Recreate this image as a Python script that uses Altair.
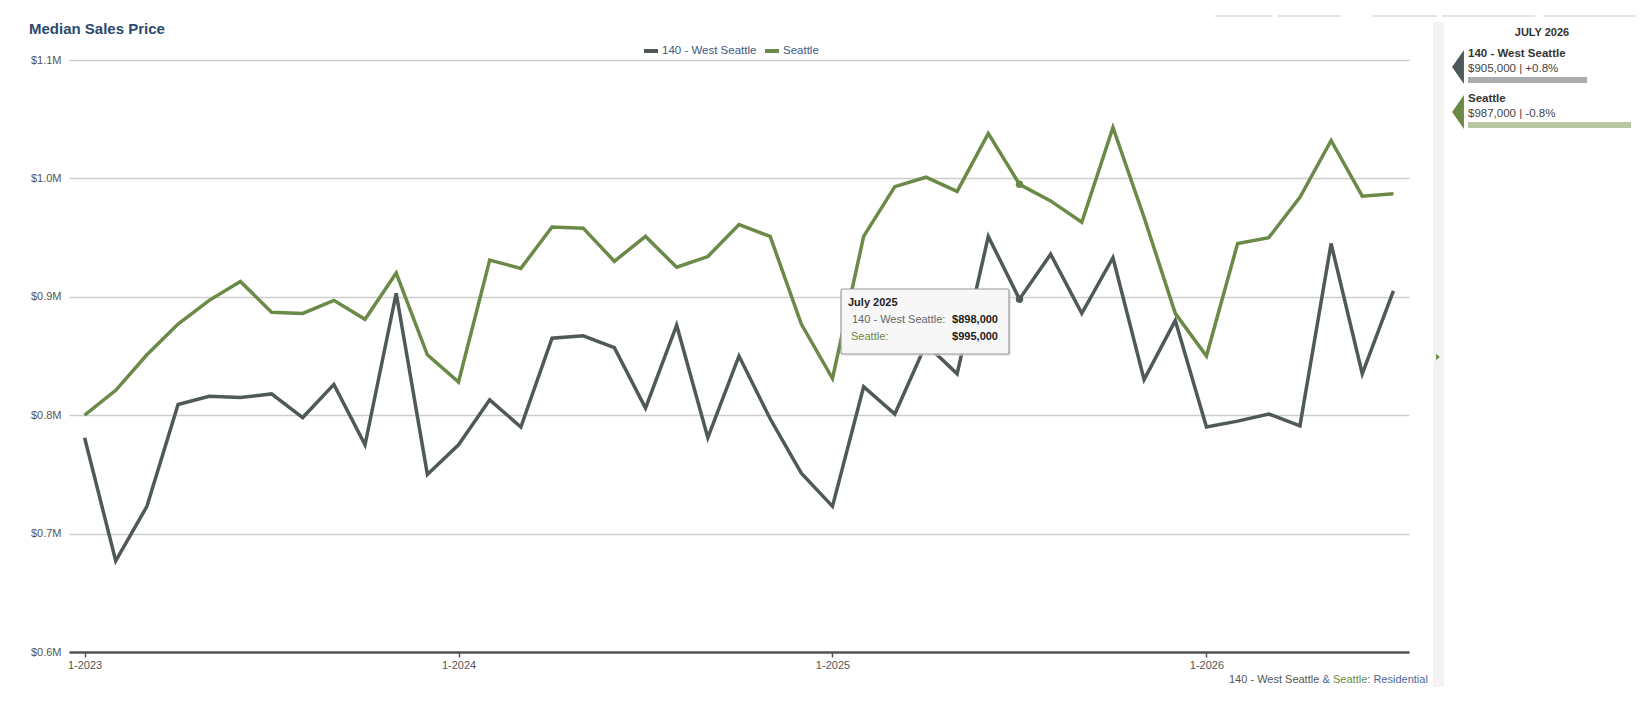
import altair as alt
import pandas as pd

# ---------------- data ----------------
series_names = ["140 - West Seattle", "Seattle"]
series_colors = ["#4f5959", "#6b8a47"]
bar_colors = ["#a9adad", "#b8c7a4"]

first_year = 2023
month_labels = [f"{first_year + i // 12}-{i % 12 + 1:02d}" for i in range(43)]
month_names = ["January", "February", "March", "April", "May", "June", "July",
               "August", "September", "October", "November", "December"]

west_seattle = [
    781000, 677000, 723000, 809000, 816000, 815000, 818000, 798000, 826000, 775000, 903000, 750000,
    775000, 813000, 790000, 865000, 867000, 857000, 806000, 876000, 781000, 850000, 797000, 751000,
    723000, 824000, 801000, 860000, 835000, 951000, 898000, 936000, 886000, 933000, 830000, 880000,
    790000, 795000, 801000, 791000, 945000, 835000, 905000,
]
seattle = [
    800000, 821000, 851000, 877000, 897000, 913000, 887000, 886000, 897000, 881000, 920000, 851000,
    828000, 931000, 924000, 959000, 958000, 930000, 951000, 925000, 934000, 961000, 951000, 877000,
    831000, 951000, 993000, 1001000, 989000, 1038000, 995000, 981000, 963000, 1043000, 967000, 886000,
    850000, 945000, 950000, 984000, 1032000, 985000, 987000,
]

year_ticks = [0, 12, 24, 36]
y_ticks = [600000, 700000, 800000, 900000, 1000000, 1100000]
highlight_month = "2025-07"
chart_title = "Median Sales Price"
property_type = "Residential"

FONT = "Liberation Sans"

rows = []
for name, vals in zip(series_names, [west_seattle, seattle]):
    for i, (m, v) in enumerate(zip(month_labels, vals)):
        rows.append({"idx": i, "month": m, "series": name, "value": v})
df = pd.DataFrame(rows)

hi = month_labels.index(highlight_month)
hi_year, hi_m = map(int, highlight_month.split("-"))
hi_title = f"{month_names[hi_m - 1]} {hi_year}"

last_year, last_m = map(int, month_labels[-1].split("-"))
latest_title = f"{month_names[last_m - 1].upper()} {last_year}"
latest_vals = [west_seattle[-1], seattle[-1]]
prev_vals = [west_seattle[-13], seattle[-13]]
latest_text = [f"${v:,} | {(v / p - 1) * 100:+.1f}%" for v, p in zip(latest_vals, prev_vals)]
BAR_BASE = 683000

one = pd.DataFrame({"a": [0]})
x_scale = alt.Scale(domain=[-0.5, 42.5], nice=False, zero=False)
y_scale = alt.Scale(domain=[600000, 1100000], nice=False, zero=False)
color_scale = alt.Scale(domain=series_names, range=series_colors)

# ---------------- main lines ----------------
lines = alt.Chart(df).mark_line(strokeWidth=3.5).encode(
    x=alt.X("idx:Q", scale=x_scale, axis=alt.Axis(
        values=year_ticks, title=None, grid=False,
        labelExpr=f"'1-' + ({first_year} + datum.value / 12)",
        domain=True, domainColor="#555555", domainWidth=2.5,
        ticks=True, tickColor="#555555", tickSize=5, tickWidth=1.5,
        labelPadding=2, labelFontSize=11, labelColor="#555555", labelFont=FONT)),
    y=alt.Y("value:Q", scale=y_scale, axis=alt.Axis(
        values=y_ticks, title=None, grid=True, gridColor="#cdcdcd", gridWidth=1.5,
        labelExpr="'$' + format(datum.value / 1000000, '.1f') + 'M'",
        domain=False, ticks=False, labelPadding=8, labelFontSize=11,
        labelColor="#555555", labelFont=FONT)),
    color=alt.Color("series:N", scale=color_scale, legend=alt.Legend(
        title=None, orient="none", direction="horizontal", legendX=573, legendY=-18,
        symbolType="stroke", symbolSize=196, symbolStrokeWidth=4,
        labelFontSize=11.5, labelColor="#3d5a80", labelFont=FONT,
        columnPadding=0, labelOffset=2, padding=0)),
)

points = alt.Chart(df).transform_filter(
    alt.datum.month == highlight_month
).mark_point(filled=True, size=55, opacity=1).encode(
    x=alt.X("idx:Q", scale=x_scale, axis=None),
    y=alt.Y("value:Q", scale=y_scale),
    color=alt.Color("series:N", scale=color_scale, legend=None),
)

layers = [lines, points]

# ---------------- tooltip box ----------------
layers.append(alt.Chart(one).mark_rect(fill="#d8d8d8", opacity=0.6, cornerRadius=2).encode(
    x=alt.value(774), x2=alt.value(942), y=alt.value(231), y2=alt.value(296)))
layers.append(alt.Chart(one).mark_rect(fill="#f7f7f7", stroke="#9a9a9a", strokeWidth=1.2,
                                       cornerRadius=2).encode(
    x=alt.value(772), x2=alt.value(940), y=alt.value(229), y2=alt.value(294)))


def txt(text, x, y, size=11, weight="normal", color="#333333", align="left"):
    return alt.Chart(one).mark_text(
        text=text, align=align, baseline="middle", font=FONT, fontSize=size,
        fontWeight=weight, color=color).encode(x=alt.value(x), y=alt.value(y))


layers += [
    txt(hi_title, 779, 243, weight="bold", color="#222222"),
    txt(series_names[0] + ":", 783, 260, color="#666666"),
    txt(f"${west_seattle[hi]:,}", 929, 260, weight="bold", color="#222222", align="right"),
    txt(series_names[1] + ":", 782, 276.5, color=series_colors[1]),
    txt(f"${seattle[hi]:,}", 929, 276.5, weight="bold", color="#222222", align="right"),
]

# ---------------- title ----------------
layers.append(txt(chart_title, -40, -31, size=15, weight="bold", color="#2b4a6f"))

# ---------------- footer ----------------
layers += [
    txt(series_names[0], 1160, 620, color="#555555"),
    txt("&", 1253.6, 620, color="#4a6a95"),
    txt(series_names[1], 1264, 620, color=series_colors[1]),
    txt(": " + property_type, 1298.3, 620, color="#4a6a95"),
]

# ---------------- side panel ----------------
layers.append(alt.Chart(one).mark_rect(fill="#f3f3f3").encode(
    x=alt.value(1364), x2=alt.value(1375), y=alt.value(-38), y2=alt.value(627)))
layers.append(alt.Chart(one).mark_point(
    shape="M-0.6,-1L-0.6,1L0.6,0Z", filled=True, size=40, opacity=1,
    color=series_colors[1]).encode(x=alt.value(1369), y=alt.value(297)))

for x0, x1 in [(1146, 1203), (1209, 1272), (1303, 1368), (1373, 1466), (1474, 1567)]:
    layers.append(alt.Chart(one).mark_rule(stroke="#dddddd", strokeWidth=1.5).encode(
        x=alt.value(x0), x2=alt.value(x1), y=alt.value(-44)))

layers.append(txt(latest_title, 1473, -27, weight="bold", color="#333333", align="center"))

entry_y = [0, 45]
for k in range(2):
    dy = entry_y[k]
    layers.append(alt.Chart(one).mark_point(
        shape="M0.35,-1L0.35,1L-0.35,0Z", filled=True, size=1156, opacity=1,
        strokeWidth=0, color=series_colors[k]).encode(x=alt.value(1389), y=alt.value(7 + dy)))
    layers.append(txt(series_names[k], 1399, -6 + dy, size=11.5, weight="bold", color="#333333"))
    layers.append(txt(latest_text[k], 1399, 9 + dy, size=11.5, color="#444444"))
    bar_df = pd.DataFrame({"series": [series_names[k]], "value": [latest_vals[k]]})
    layers.append(alt.Chart(bar_df).mark_rect(color=bar_colors[k]).encode(
        x=alt.X("value:Q", scale=alt.Scale(domain=[BAR_BASE, max(latest_vals)],
                                           range=[1399, 1562], zero=False, nice=False),
                axis=None),
        x2=alt.datum(BAR_BASE),
        y=alt.value(17 + dy), y2=alt.value(23 + dy)))

chart = alt.layer(*layers).resolve_scale(x="independent").properties(
    width=1340, height=592,
    padding={"left": 61, "top": 52, "right": 229, "bottom": 52},
    autosize=alt.AutoSizeParams(type="none"),
).configure(background="white").configure_view(stroke=None)

chart.save("out.html", embed_options={"renderer": "svg", "actions": False})
